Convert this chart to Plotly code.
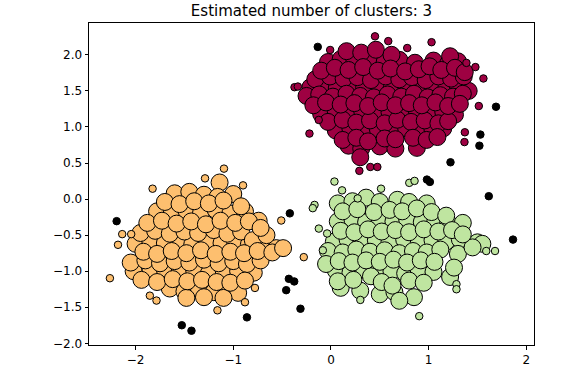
import plotly.graph_objects as go

title_text = "Estimated number of clusters: 3"
x_ticks = [-2, -1, 0, 1, 2]
x_ticklabels = ["\u22122", "\u22121", "0", "1", "2"]
y_ticks = [2.0, 1.5, 1.0, 0.5, 0.0, -0.5, -1.0, -1.5, -2.0]
y_ticklabels = ["2.0", "1.5", "1.0", "0.5", "0.0", "\u22120.5", "\u22121.0", "\u22121.5", "\u22122.0"]

colors = {"red": "#9e0142", "orange": "#fdbf6f", "green": "#bfe5a0", "noise": "#000000"}

red_core = [
    (-0.21,1.55),(-0.08,1.58),(0.06,1.54),(0.2,1.57),(0.34,1.55),(0.48,1.59),(0.62,1.53),(0.77,1.57),(0.9,1.55),(1.04,1.58),(1.18,1.53),(1.3,1.56),(1.41,1.5),
    (0.05,0.95),(0.2,0.97),(0.34,0.93),(0.48,0.97),(0.62,0.94),(0.77,0.98),(0.9,0.94),(1.04,0.96),(1.15,0.98),
    (-0.03,1.9),(0.1,1.94),(0.24,1.91),(0.39,1.95),(0.55,1.9),(0.7,1.93),(0.86,1.89),(1.05,1.92),(1.2,1.88),(1.3,1.91),
    (-0.1,1.18),(0.05,1.21),(0.18,1.17),(0.32,1.22),(0.46,1.19),(0.6,1.2),(0.74,1.17),(0.88,1.22),(1.02,1.18),(1.15,1.21),(1.27,1.17),
    (0.18,0.74),(0.31,0.7),(0.5,0.73),(0.66,0.7),(0.88,0.71),
    (-0.16,1.66),(-0.01,1.7),(0.13,1.67),(0.27,1.69),(0.41,1.65),(0.56,1.7),(0.7,1.66),(0.83,1.69),(0.97,1.65),(1.1,1.7),(1.23,1.67),(1.36,1.7),
    (-0.03,1.07),(0.12,1.1),(0.26,1.06),(0.4,1.09),(0.55,1.05),(0.68,1.1),(0.82,1.07),(0.96,1.09),(1.1,1.05),(1.2,1.08),
    (0.16,2.05),(0.31,2.03),(0.46,2.07),(0.62,2.0),(1.22,1.98),
    (-0.25,1.43),(-0.12,1.45),(0.02,1.42),(0.16,1.46),(0.3,1.43),(0.44,1.41),(0.58,1.45),(0.72,1.42),(0.85,1.46),(0.99,1.41),(1.12,1.44),(1.25,1.42),(1.35,1.46),
    (0.12,0.82),(0.26,0.85),(0.38,0.8),(0.55,0.84),(0.66,0.83),(0.84,0.85),(0.98,0.82),(1.09,0.86),
    (-0.1,1.78),(0.04,1.82),(0.18,1.79),(0.33,1.83),(0.48,1.78),(0.61,1.81),(0.76,1.77),(0.9,1.8),(1.01,1.84),(1.13,1.79),(1.27,1.82),(1.37,1.76),
    (-0.18,1.3),(-0.05,1.34),(0.1,1.31),(0.24,1.33),(0.38,1.29),(0.52,1.34),(0.66,1.3),(0.8,1.33),(0.93,1.3),(1.07,1.34),(1.2,1.29),(1.32,1.32),
    (0.3,0.58),
]
red_edge = [
    (0.451,2.256),(0.587,2.19),(-0.008,2.067),(0.781,2.094),(1.03,2.175),(-0.373,1.551),(-0.339,1.56),
    (1.387,1.888),(1.479,1.83),(1.561,1.672),(1.514,1.29),(-0.22,0.908),(1.371,0.926),(1.367,0.79),
    (0.291,0.391),(0.403,0.445),(0.475,0.445),(-0.125,1.097),
]

orange_core = [
    (-2.0,-0.62),(-1.85,-0.58),(-1.7,-0.61),(-1.56,-0.59),(-1.42,-0.63),(-1.27,-0.58),(-1.12,-0.61),(-0.98,-0.6),(-0.84,-0.63),(-0.7,-0.6),(-0.56,-0.68),
    (-1.14,0.23),
    (-2.02,-1.0),(-1.85,-1.02),(-1.7,-0.98),(-1.55,-1.01),(-1.4,-0.99),(-1.25,-1.03),(-1.1,-0.98),(-0.95,-1.0),(-0.79,-1.02),
    (-1.78,-0.17),(-1.63,-0.2),(-1.48,-0.16),(-1.33,-0.19),(-1.18,-0.15),(-1.03,-0.2),(-0.88,-0.17),(-0.74,-0.3),
    (-1.65,-1.24),(-1.5,-1.28),(-1.35,-1.26),(-1.2,-1.29),(-1.05,-1.25),(-0.95,-1.3),
    (-1.95,-0.47),(-1.8,-0.44),(-1.65,-0.48),(-1.5,-0.45),(-1.36,-0.47),(-1.2,-0.43),(-1.06,-0.48),(-0.92,-0.45),(-0.8,-0.57),(-0.66,-0.5),
    (-1.6,0.08),(-1.45,0.1),(-1.3,0.06),(-1.16,0.03),(-1.0,0.07),
    (-2.05,-0.88),(-1.9,-0.85),(-1.75,-0.89),(-1.6,-0.86),(-1.45,-0.88),(-1.3,-0.84),(-1.15,-0.89),(-1.0,-0.86),(-0.86,-0.9),(-0.72,-0.85),
    (-1.88,-0.33),(-1.73,-0.3),(-1.58,-0.34),(-1.43,-0.31),(-1.28,-0.35),(-1.13,-0.3),(-0.98,-0.33),(-0.84,-0.31),(-0.72,-0.4),
    (-1.48,-1.37),(-1.3,-1.36),(-1.1,-1.37),
    (-1.92,-0.73),(-1.78,-0.76),(-1.63,-0.72),(-1.48,-0.75),(-1.33,-0.71),(-1.18,-0.76),(-1.03,-0.73),(-0.89,-0.75),(-0.75,-0.72),(-0.6,-0.74),(-0.49,-0.68),
    (-1.7,-0.04),(-1.55,-0.07),(-1.4,-0.03),(-1.25,-0.06),(-1.1,-0.02),(-0.92,-0.1),
    (-1.94,-1.12),(-1.78,-1.15),(-1.62,-1.11),(-1.47,-1.14),(-1.32,-1.12),(-1.17,-1.15),(-1.03,-1.16),(-0.88,-1.13),
]
orange_edge = [
    (-1.095,0.422),(-1.289,0.287),(-1.826,0.144),(-0.9,0.19),(-2.137,-0.486),(-2.045,-0.486),(-2.18,-0.634),
    (-2.263,-1.097),(-0.509,-0.297),(-0.278,-0.805),(-0.778,-1.232),(-0.88,-1.43),(-1.162,-1.542),
    (-1.786,-1.407),(-1.854,-1.339),
]

green_core = [
    (0.03,-0.59),(0.17,-0.56),(0.31,-0.6),(0.46,-0.57),(0.6,-0.59),(0.75,-0.56),(0.9,-0.6),(1.04,-0.57),(1.18,-0.59),(1.32,-0.56),(1.5,-0.6),(1.55,-0.62),
    (0.07,-0.06),(0.22,-0.03),(0.36,0.02),(0.5,-0.04),(0.68,-0.01),(0.8,-0.04),(0.98,-0.06),
    (0.05,-0.99),(0.2,-1.02),(0.34,-0.98),(0.48,-1.01),(0.62,-1.0),(0.76,-1.03),(0.9,-0.99),(1.05,-1.01),(1.22,-1.08),
    (0.07,-0.31),(0.22,-0.28),(0.36,-0.32),(0.5,-0.29),(0.64,-0.31),(0.78,-0.28),(0.93,-0.32),(1.07,-0.3),(1.2,-0.33),(1.35,-0.33),
    (0.1,-1.23),(0.3,-1.27),(0.5,-1.32),(0.65,-1.29),(0.85,-1.36),
    (-0.03,-0.72),(0.12,-0.74),(0.26,-0.7),(0.4,-0.73),(0.55,-0.71),(0.7,-0.75),(0.84,-0.72),(0.98,-0.74),(1.12,-0.7),(1.3,-0.76),(1.45,-0.67),
    (0.12,-0.17),(0.27,-0.14),(0.44,-0.18),(0.6,-0.15),(0.73,-0.17),(0.88,-0.13),(1.03,-0.18),(1.18,-0.23),
    (0.07,-1.14),(0.23,-1.12),(0.41,-1.07),(0.52,-1.15),(0.63,-1.2),(0.8,-1.13),(0.95,-1.16),
    (0.1,-0.44),(0.24,-0.46),(0.38,-0.42),(0.52,-0.45),(0.66,-0.43),(0.8,-0.46),(0.95,-0.42),(1.1,-0.45),(1.24,-0.43),(1.35,-0.49),
    (0.7,-1.41),
    (-0.05,-0.9),(0.08,-0.86),(0.22,-0.88),(0.36,-0.85),(0.5,-0.87),(0.64,-0.84),(0.78,-0.88),(0.92,-0.85),(1.06,-0.87),(1.26,-0.95),
]
green_edge = [
    (0.036,0.243),(0.114,0.121),(0.513,0.144),(0.802,0.225),(0.856,0.252),(-0.168,-0.081),(-0.186,-0.126),
    (-0.124,-0.409),(-0.039,-0.477),(-0.083,-0.71),(0.274,0.009),(1.59,-0.72),(1.68,-0.72),
    (1.285,-1.18),(1.285,-1.25),(0.301,-1.398),(0.904,-1.623),
]

noise = [
    (-0.135,2.11),(1.69,1.28),(1.53,0.894),(1.52,0.74),(1.224,0.51),
    (-2.194,-0.306),(-0.421,-0.198),(-0.431,-1.106),(-0.376,-1.142),(-0.458,-1.263),(-0.312,-1.52),
    (-0.86,-1.64),(-1.527,-1.749),(-1.428,-1.825),
    (0.983,0.27),(1.013,0.238),(1.616,0.04),(1.864,-0.562),
]

BIG, SMALL = 17, 7.5

fig = go.Figure()

def add(points, color, size):
    fig.add_trace(go.Scatter(
        x=[p[0] for p in points], y=[p[1] for p in points], mode="markers",
        marker=dict(size=size, color=color, line=dict(color="black", width=1)),
        showlegend=False, hoverinfo="skip"))

add(red_core, colors["red"], BIG)
add(red_edge, colors["red"], SMALL)
add(orange_core, colors["orange"], BIG)
add(orange_edge, colors["orange"], SMALL)
add(green_core, colors["green"], BIG)
add(green_edge, colors["green"], SMALL)
add(noise, colors["noise"], SMALL)

axis_common = dict(showline=True, linecolor="black", linewidth=1, mirror=True,
                   showgrid=False, zeroline=False, ticks="outside", ticklen=3.5,
                   tickcolor="black", tickwidth=1,
                   tickfont=dict(family="DejaVu Sans", size=12, color="black"))

fig.update_layout(
    width=582, height=379,
    margin=dict(l=89, r=48, t=23, b=25),
    paper_bgcolor="white", plot_bgcolor="white",
    title=dict(text=title_text, x=0.5, xref="paper", xanchor="center",
               y=0.972, yref="container", yanchor="middle",
               font=dict(family="DejaVu Sans", size=15, color="black")),
    xaxis=dict(range=[-2.477, 2.079], tickvals=x_ticks, ticktext=x_ticklabels, **axis_common),
    yaxis=dict(range=[-2.023, 2.441], tickvals=y_ticks, ticktext=y_ticklabels, **axis_common),
)

fig.write_html("out.html", config={"displayModeBar": False},
               post_script="document.body.style.margin='0';")
